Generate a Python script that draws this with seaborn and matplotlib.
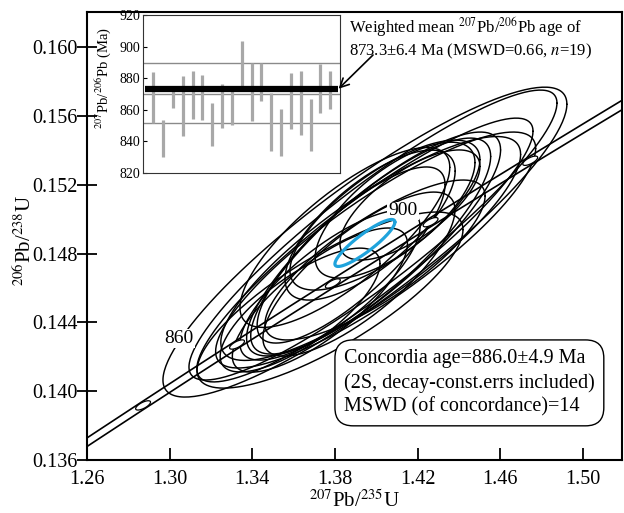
import numpy as np
import pandas as pd
import matplotlib
matplotlib.use("Agg")
import matplotlib.pyplot as plt
import seaborn as sns

# ---- U-Pb isotope ratios of the 19 zircon spots (2-sigma half widths) ----
x207_235 = [1.3945, 1.3984, 1.3945, 1.3776, 1.3997, 1.3973, 1.3987, 1.3973, 1.3848, 1.3878,
            1.3916, 1.3727, 1.4042, 1.4091, 1.3970, 1.4163, 1.3631, 1.3776, 1.3994]
sx207_235 = [0.0978, 0.0891, 0.0814, 0.0644, 0.0775, 0.0726, 0.0615, 0.0581, 0.0508, 0.0455,
             0.0465, 0.0424, 0.0460, 0.0387, 0.0412, 0.0339, 0.0387, 0.0436, 0.0533]
y206_238 = [0.14867, 0.14908, 0.14821, 0.14530, 0.14821, 0.14830, 0.14856, 0.14844, 0.14894, 0.14792,
            0.14681, 0.14530, 0.15024, 0.15053, 0.14966, 0.15083, 0.14472, 0.14617, 0.14763]
sy206_238 = [0.00901, 0.00843, 0.00767, 0.00512, 0.00686, 0.00651, 0.00651, 0.00628, 0.00523, 0.00512,
             0.00477, 0.00419, 0.00436, 0.00395, 0.00436, 0.00320, 0.00360, 0.00436, 0.00465]
rho = [0.89, 0.91, 0.90, 0.80, 0.86, 0.84, 0.84, 0.83, 0.78, 0.80,
       0.78, 0.78, 0.74, 0.70, 0.72, 0.70, 0.75, 0.78, 0.80]

# concordia-age (weighted mean composition) ellipse
conc_x, conc_sx = 1.3945, 0.01453
conc_y, conc_sy = 0.14862, 0.001366
conc_rho = 0.89

# decay constants (1/yr) and labelled concordia ages (Ma)
lambda238 = 1.55125e-10
lambda235 = 9.8485e-10
marker_ages = [840, 860, 880, 900, 920]

# 207Pb/206Pb ages (Ma) and 2-sigma errors for the inset
pb_age = [867.9, 841.8, 867.2, 862.5, 869.6, 867.8, 850.6, 862.6, 862.6, 887.9,
          871.3, 877.6, 852.3, 845.6, 865.4, 864.1, 850.1, 873.7, 872.4]
pb_err = [16.0, 11.9, 6.3, 19.0, 15.2, 14.2, 13.4, 13.9, 12.4, 15.5,
          18.4, 12.1, 18.2, 14.7, 17.7, 20.2, 16.5, 15.5, 12.1]
inset_ref_lines = [889.6, 870.3, 851.9]
weighted_mean = 873.3

x_ticks = [1.26, 1.30, 1.34, 1.38, 1.42, 1.46, 1.50]
y_ticks = [0.136, 0.140, 0.144, 0.148, 0.152, 0.156, 0.160]
inset_ticks = [820, 840, 860, 880, 900, 920]

sns.set_theme(style="white", rc={"axes.edgecolor": "black", "text.color": "black",
                                 "axes.labelcolor": "black", "xtick.color": "black",
                                 "ytick.color": "black"})
plt.rcParams["font.family"] = ["Liberation Serif", "DejaVu Serif"]
plt.rcParams["mathtext.fontset"] = "stix"


def ellipse_points(x, sx, y, sy, r, n=240):
    t = np.linspace(0, 2 * np.pi, n)
    ex = x + sx * np.cos(t)
    ey = y + sy * (r * np.cos(t) + np.sqrt(1 - r * r) * np.sin(t))
    return ex, ey


fig = plt.figure(figsize=(6.24, 5.13), dpi=100)
ax = fig.add_axes([0.1397, 0.1033, 0.8571, 0.8733])

# error ellipses of individual analyses
frames = []
for i, (x, sx, y, sy, r) in enumerate(zip(x207_235, sx207_235, y206_238, sy206_238, rho)):
    ex, ey = ellipse_points(x, sx, y, sy, r)
    frames.append(pd.DataFrame({"x": ex, "y": ey, "spot": i}))
ell = pd.concat(frames, ignore_index=True)
sns.lineplot(data=ell, x="x", y="y", units="spot", estimator=None, sort=False,
             color="black", lw=1.05, ax=ax, legend=False, zorder=2)

# concordia band (decay-constant uncertainty)
t_ma = np.linspace(700, 1000, 400)
cx = np.exp(lambda235 * t_ma * 1e6) - 1
cy = np.exp(lambda238 * t_ma * 1e6) - 1
for k in (-1, 1):
    sns.lineplot(x=cx * (1 + k * 0.0025), y=cy, sort=False, color="black",
                 lw=1.2, ax=ax, zorder=2.5)

# age markers on the concordia
for age in marker_ages:
    mx = np.exp(lambda235 * age * 1e6) - 1
    my = np.exp(lambda238 * age * 1e6) - 1
    ex, ey = ellipse_points(mx, 0.0036, my, 0.00027, 0.7)
    ax.fill(ex, ey, facecolor="white", edgecolor="black", lw=0.9, zorder=3)

ax.text(1.3045, 0.14309, "860", fontsize=14, ha="center", va="center", zorder=4,
        bbox=dict(boxstyle="square,pad=0.05", fc="white", ec="none"))
ax.text(1.4129, 0.15048, "900", fontsize=14, ha="center", va="center", zorder=4,
        bbox=dict(boxstyle="square,pad=0.05", fc="white", ec="none"))

# concordia-age ellipse
bx, by = ellipse_points(conc_x, conc_sx, conc_y, conc_sy, conc_rho)
ax.plot(bx, by, color="#1fa3dc", lw=2.3, zorder=5)

ax.set_xlim(1.26, 1.519)
ax.set_ylim(0.136, 0.16205)
ax.set_xticks(x_ticks)
ax.set_xticklabels([f"{v:.2f}" for v in x_ticks])
ax.set_yticks(y_ticks)
ax.set_yticklabels([f"{v:.3f}" for v in y_ticks])
ax.tick_params(axis="x", bottom=True, direction="in", length=9, width=1.3,
               labelsize=14.5, pad=7)
ax.tick_params(axis="y", left=True, direction="inout", length=14, width=1.3,
               labelsize=14.5, pad=0)
for s in ax.spines.values():
    s.set_linewidth(1.5)
    s.set_color("black")
ax.set_xlabel(r"$^{207}$Pb/$^{235}$U", fontsize=15, labelpad=1)
ax.set_ylabel(r"$^{206}$Pb/$^{238}$U", fontsize=15)
ax.yaxis.set_label_coords(-0.095, 0.49)

ax.text(0.4802, 0.2478,
        "Concordia age=886.0\u00b14.9 Ma\n(2S, decay-const.errs included)\nMSWD (of concordance)=14",
        transform=ax.transAxes, ha="left", va="top", fontsize=14.5, linespacing=1.33, zorder=6,
        bbox=dict(boxstyle="round,pad=0.45,rounding_size=0.9", fc="white", ec="black", lw=1.0))

# inset: 207Pb/206Pb ages
axi = fig.add_axes([0.2292, 0.6628, 0.3157, 0.308])
axi.set_facecolor("white")
idx = np.arange(len(pb_age))
lo = np.array(pb_age) - np.array(pb_err)
hi = np.array(pb_age) + np.array(pb_err)
for v in inset_ref_lines:
    axi.axhline(v, color="#8a8a8a", lw=1.0, zorder=1)
axi.vlines(idx, lo, hi, color="#a8a8a8", lw=2.3, zorder=2)
axi.hlines(weighted_mean, -0.85, 18.8, color="black", lw=4.5, zorder=3)
axi.set_xlim(-1.05, 19.0)
axi.set_ylim(820, 920)
axi.set_xticks([])
axi.set_yticks(inset_ticks)
axi.tick_params(axis="y", left=True, direction="in", length=3, width=0.8,
                labelsize=10, pad=2)
for s in axi.spines.values():
    s.set_linewidth(0.8)
    s.set_color("#333333")
axi.set_ylabel(r"$^{207}$Pb/$^{206}$Pb (Ma)", fontsize=10.5, labelpad=1)
axi.yaxis.set_label_coords(-0.15, 0.6)

axi.annotate("", xy=(18.85, weighted_mean), xycoords="data",
             xytext=(373, 513 - 55), textcoords="figure pixels",
             arrowprops=dict(arrowstyle="->", color="black", lw=1.2,
                             mutation_scale=16, shrinkA=0, shrinkB=0),
             annotation_clip=False)
fig.text(349 / 624, 1 - 38 / 513,
         "Weighted mean $^{207}$Pb/$^{206}$Pb age of\n873.3\u00b16.4 Ma (MSWD=0.66, $n$=19)",
         ha="left", va="center", fontsize=12, linespacing=1.15)

fig.savefig("out.png", dpi=100, facecolor="white")
